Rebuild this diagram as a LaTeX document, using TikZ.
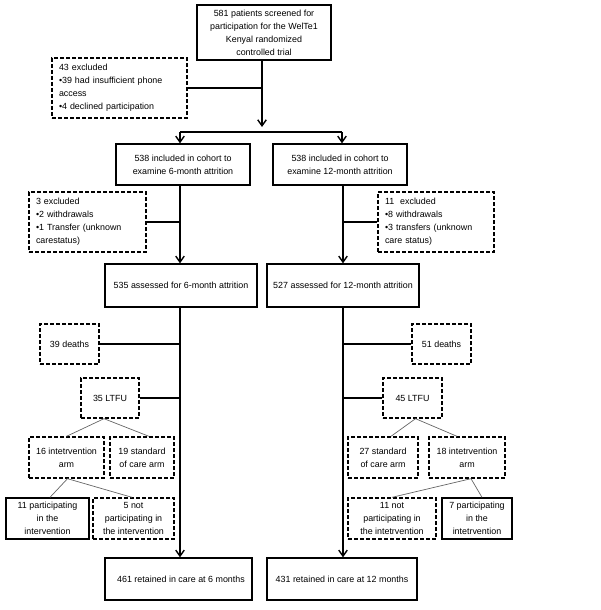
\documentclass[tikz,border=0pt]{standalone}
\usepackage{fontspec}
\setmainfont{Liberation Sans}
\usetikzlibrary{arrows.meta}
\begin{document}
\begin{tikzpicture}[x=1pt,y=-1pt,
  every node/.style={font=\fontsize{8.9}{13}\selectfont, inner sep=0pt},
  sbox/.style={draw, line width=1.35pt, align=center},
  dbox/.style={draw, line width=1.35pt, dash pattern=on 4pt off 2pt, align=center},
  lbox/.style={dbox, align=left},
  line/.style={line width=1.4pt},
  arr/.style={line width=1.4pt, -{Straight Barb[length=6pt,width=8.5pt]}},
  thinl/.style={line width=0.7pt, draw=black!60}]
\useasboundingbox (0,0) rectangle (600,610);

% nodes
\node[sbox, minimum width=134pt, minimum height=55pt] (top) at (264,32.5)
  {581 patients screened for\\participation for the WelTe1\\Kenyal randomized\\controlled trial};
\node[lbox, minimum width=135pt, minimum height=60pt, text width=121pt] (ex1) at (119.5,88)
  {43 excluded\\•39 had insufficient phone\\access\\•4 declined participation};
\node[sbox, minimum width=134pt, minimum height=41pt] (c6) at (183,164.5)
  {538 included in cohort to\\examine 6-month attrition};
\node[sbox, minimum width=134pt, minimum height=41pt] (c12) at (340,164.5)
  {538 included in cohort to\\examine 12-month attrition};
\node[lbox, minimum width=117pt, minimum height=60pt, text width=103pt] (ex6) at (87.5,222)
  {3 excluded\\•2 withdrawals\\•1 Transfer (unknown\\carestatus)};
\node[lbox, minimum width=116pt, minimum height=60pt, text width=102pt] (ex12) at (436,222)
  {11\ \ excluded\\•8 withdrawals\\•3 transfers (unknown\\care status)};
\node[sbox, minimum width=152pt, minimum height=43pt] (a6) at (181,285.5)
  {535 assessed for 6-month attrition};
\node[sbox, minimum width=152pt, minimum height=43pt] (a12) at (343,285.5)
  {527 assessed for 12-month attrition};
\node[dbox, minimum width=59pt, minimum height=40pt] (d6) at (69.5,344) {39 deaths};
\node[dbox, minimum width=59pt, minimum height=40pt] (d12) at (441.5,344) {51 deaths};
\node[dbox, minimum width=58pt, minimum height=40pt] (l6) at (110,398) {35 LTFU};
\node[dbox, minimum width=59pt, minimum height=40pt] (l12) at (412.5,398) {45 LTFU};
\node[dbox, minimum width=75pt, minimum height=41pt] (i6) at (66.5,457.5) {16 intetrvention\\arm};
\node[dbox, minimum width=64pt, minimum height=41pt] (s6) at (142,457.5) {19 standard\\of care arm};
\node[dbox, minimum width=70pt, minimum height=41pt] (s12) at (383,457.5) {27 standard\\of care arm};
\node[dbox, minimum width=76pt, minimum height=41pt] (i12) at (467,457.5) {18 intetrvention\\arm};
\node[sbox, minimum width=83pt, minimum height=41pt] (p6) at (47.5,518.5) {11 participating\\in the\\intervention};
\node[dbox, minimum width=81pt, minimum height=41pt] (n6) at (133.5,518.5) {5 not\\participating in\\the intervention};
\node[dbox, minimum width=88pt, minimum height=41pt] (n12) at (392,518.5) {11 not\\participating in\\the intetrvention};
\node[sbox, minimum width=70pt, minimum height=41pt] (p12) at (477,518.5) {7 participating\\in the\\intetrvention};
\node[sbox, minimum width=147pt, minimum height=42pt] (r6) at (178.5,579) {\ \ 461 retained in care at 6 months};
\node[sbox, minimum width=150pt, minimum height=42pt] (r12) at (342,579) {431 retained in care at 12 months};

% junction coordinates
\coordinate (m0) at (262,127);
\coordinate (jL) at (180,132);
\coordinate (jR) at (342,132);
\coordinate (L) at (180,0);
\coordinate (R) at (343,0);

% top section
\draw[arr] (top.south -| m0) -- (m0);
\draw[line] (ex1.east) -- (ex1.east -| m0);
\draw[line] (jL) -- (jR);
\draw[arr] (jL) -- (c6.north -| jL);
\draw[arr] (jR) -- (c12.north -| jR);

% 6-month column
\draw[arr] (c6.south -| L) -- (a6.north -| L);
\draw[line] (ex6.east) -- (ex6.east -| L);
\draw[arr] (a6.south -| L) -- (r6.north -| L);
\draw[line] (d6.east) -- (d6.east -| L);
\draw[line] (l6.east) -- (l6.east -| L);

% 12-month column
\draw[arr] (c12.south -| R) -- (a12.north -| R);
\draw[line] (ex12.west) -- (ex12.west -| R);
\draw[arr] (a12.south -| R) -- (r12.north -| R);
\draw[line] (d12.west) -- (d12.west -| R);
\draw[line] (l12.west) -- (l12.west -| R);

% thin branch lines
\draw[thinl] ([xshift=-6pt]l6.south) -- (i6.north);
\draw[thinl] ([xshift=-6pt]l6.south) -- ([xshift=7pt]s6.north);
\draw[thinl] ([xshift=3pt]l12.south) -- ([xshift=8pt]s12.north);
\draw[thinl] ([xshift=3pt]l12.south) -- ([xshift=-10pt]i12.north);
\draw[thinl] ([xshift=1pt]i6.south) -- ([xshift=2.5pt]p6.north);
\draw[thinl] ([xshift=1pt]i6.south) -- ([xshift=-1.5pt]n6.north);
\draw[thinl] ([xshift=4pt]i12.south) -- (n12.north);
\draw[thinl] ([xshift=4pt]i12.south) -- ([xshift=5pt]p12.north);
\end{tikzpicture}
\end{document}
